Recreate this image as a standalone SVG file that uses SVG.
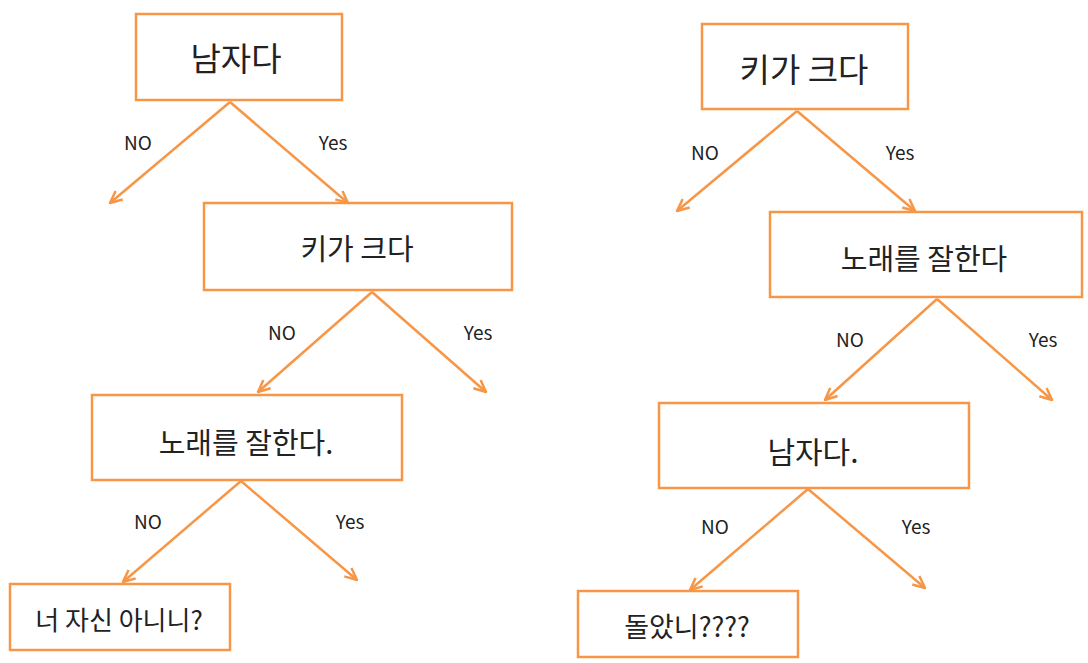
<svg xmlns="http://www.w3.org/2000/svg" width="1088" height="663" viewBox="0 0 1088 663">
<defs>
<marker id="arr" viewBox="0 0 14 14" refX="13" refY="7" markerWidth="14" markerHeight="14" markerUnits="userSpaceOnUse" orient="auto">
<path d="M1,1.5 L13,7 L1,12.5" fill="none" stroke="#F79646" stroke-width="2.5" stroke-linejoin="miter"/>
</marker>
<style>
.box{fill:#fff;stroke:#F79646;stroke-width:2.5}
.t{font-family:"Noto Sans CJK KR","Noto Sans",sans-serif;fill:#222;text-anchor:middle;dominant-baseline:central}
.lbl{font-family:"Noto Sans CJK KR","Noto Sans",sans-serif;fill:#222;font-size:19px;text-anchor:middle;dominant-baseline:central}
.c{fill:none;stroke:#F79646;stroke-width:2.5;marker-end:url(#arr)}
</style>
</defs>
<rect width="1088" height="663" fill="#fff"/>
<g id="connectors">
<line class="c" x1="230" y1="102" x2="110" y2="203"/>
<line class="c" x1="230" y1="102" x2="348" y2="203"/>
<line class="c" x1="372" y1="292" x2="258" y2="392"/>
<line class="c" x1="372" y1="292" x2="486" y2="392"/>
<line class="c" x1="241" y1="481" x2="123" y2="582"/>
<line class="c" x1="241" y1="481" x2="357" y2="580"/>
<line class="c" x1="797" y1="111" x2="677" y2="211"/>
<line class="c" x1="797" y1="111" x2="915" y2="211"/>
<line class="c" x1="937" y1="299" x2="825" y2="400"/>
<line class="c" x1="937" y1="299" x2="1052" y2="400"/>
<line class="c" x1="808" y1="489" x2="690" y2="590"/>
<line class="c" x1="808" y1="489" x2="925" y2="588"/>
</g>
<g id="labels">
<text class="lbl" x="138" y="141">NO</text>
<text class="lbl" x="333" y="141">Yes</text>
<text class="lbl" x="282" y="331">NO</text>
<text class="lbl" x="478" y="331">Yes</text>
<text class="lbl" x="148" y="520">NO</text>
<text class="lbl" x="350" y="520">Yes</text>
<text class="lbl" x="705" y="151">NO</text>
<text class="lbl" x="900" y="151">Yes</text>
<text class="lbl" x="850" y="338">NO</text>
<text class="lbl" x="1043" y="338">Yes</text>
<text class="lbl" x="715" y="525">NO</text>
<text class="lbl" x="916" y="525">Yes</text>
</g>
<g id="L1"><rect class="box" x="136" y="14" width="206" height="86"/><text class="t" x="236" y="57" font-size="33">남자다</text></g>
<g id="L2"><rect class="box" x="204" y="203" width="308" height="87"/><text class="t" x="357" y="247" font-size="29">키가 크다</text></g>
<g id="L3"><rect class="box" x="92" y="395" width="310" height="85"/><text class="t" x="246" y="441" font-size="29">노래를 잘한다.</text></g>
<g id="L4"><rect class="box" x="10" y="584" width="220" height="66"/><text class="t" x="119" y="618" font-size="26">너 자신 아니니?</text></g>
<g id="R1"><rect class="box" x="702" y="24" width="206" height="85"/><text class="t" x="804" y="68" font-size="33">키가 크다</text></g>
<g id="R2"><rect class="box" x="770" y="212" width="312" height="85"/><text class="t" x="924" y="257" font-size="29">노래를 잘한다</text></g>
<g id="R3"><rect class="box" x="659" y="403" width="310" height="85"/><text class="t" x="813" y="450" font-size="30">남자다.</text></g>
<g id="R4"><rect class="box" x="578" y="591" width="220" height="66"/><text class="t" x="687" y="625" font-size="27">돌았니????</text></g>
</svg>
